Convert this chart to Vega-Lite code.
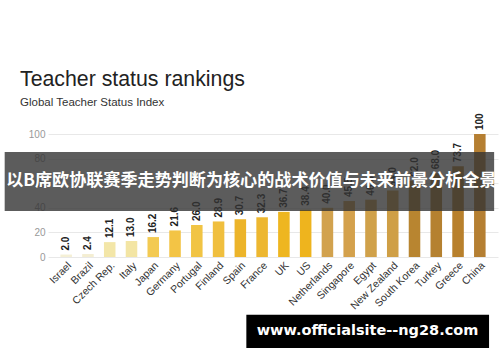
{
  "$schema": "https://vega.github.io/schema/vega-lite/v6.json",
  "autosize": "none",
  "width": 450,
  "height": 123,
  "padding": {"left": 48, "top": 134, "right": 2, "bottom": 105},
  "background": "#ffffff",
  "config": {
    "view": {"stroke": null},
    "font": "Liberation Sans",
    "axisY": {"title": null, "domain": false, "ticks": false, "tickSize": 0, "tickCount": 5, "grid": true, "gridColor": "#e8e8e8", "labelColor": "#999999", "labelFontSize": 10, "labelPadding": 3},
    "axisX": {"title": null, "domain": false, "ticks": false, "grid": false, "labelAngle": -45, "labelColor": "#333333", "labelFontSize": 10.5, "labelPadding": 3}
  },
  "title": {
    "text": "Teacher status rankings",
    "subtitle": "Global Teacher Status Index",
    "anchor": "start",
    "frame": "group",
    "dx": -28,
    "offset": 5,
    "font": "Liberation Sans",
    "fontSize": 21.3,
    "fontWeight": "normal",
    "color": "#222222",
    "subtitleFont": "Liberation Sans",
    "subtitleFontSize": 11.5,
    "subtitleColor": "#333333",
    "subtitlePadding": 7
  },
  "layer": [
    {
      "data": {"name": "scores", "values": [
        {"country": "Israel", "value": 2.0, "label": "2.0"},
        {"country": "Brazil", "value": 2.4, "label": "2.4"},
        {"country": "Czech Rep.", "value": 12.1, "label": "12.1"},
        {"country": "Italy", "value": 13.0, "label": "13.0"},
        {"country": "Japan", "value": 16.2, "label": "16.2"},
        {"country": "Germany", "value": 21.6, "label": "21.6"},
        {"country": "Portugal", "value": 26.0, "label": "26.0"},
        {"country": "Finland", "value": 28.9, "label": "28.9"},
        {"country": "Spain", "value": 30.7, "label": "30.7"},
        {"country": "France", "value": 32.3, "label": "32.3"},
        {"country": "UK", "value": 36.7, "label": "36.7"},
        {"country": "US", "value": 38.4, "label": "38.4"},
        {"country": "Netherlands", "value": 40.0, "label": "40.0"},
        {"country": "Singapore", "value": 45.5, "label": "45.5"},
        {"country": "Egypt", "value": 46.6, "label": "46.6"},
        {"country": "New Zealand", "value": 54.0, "label": "54.0"},
        {"country": "South Korea", "value": 62.0, "label": "62.0"},
        {"country": "Turkey", "value": 68.0, "label": "68.0"},
        {"country": "Greece", "value": 73.7, "label": "73.7"},
        {"country": "China", "value": 100, "label": "100"}
      ]},
      "layer": [
        {
          "mark": {"type": "bar"},
          "encoding": {
            "x": {
              "field": "country", "type": "nominal", "sort": null,
              "scale": {"paddingInner": 0.47, "paddingOuter": 0.57}
            },
            "y": {
              "field": "value", "type": "quantitative",
              "scale": {"domain": [0, 100], "nice": false}
            },
            "color": {
              "field": "country", "type": "nominal", "legend": null,
              "scale": {
                "domain": ["Israel", "Brazil", "Czech Rep.", "Italy", "Japan", "Germany", "Portugal", "Finland", "Spain", "France", "UK", "US", "Netherlands", "Singapore", "Egypt", "New Zealand", "South Korea", "Turkey", "Greece", "China"],
                "range": ["#f5f0d6", "#f4eed2", "#f3e6a8", "#f3e5a4", "#f3ca52", "#f3c445", "#f1c444", "#f0bf3e", "#ecb42a", "#edb730", "#eeb620", "#eeb41e", "#d2a24e", "#d4a14c", "#d0a14a", "#cf9f46", "#b88530", "#b58130", "#b8802c", "#b57f32"]
              }
            }
          }
        },
        {
          "mark": {"type": "text", "angle": 270, "align": "left", "baseline": "middle", "dx": 4, "fontWeight": "bold", "fontSize": 10, "color": "#222222"},
          "encoding": {
            "x": {"field": "country", "type": "nominal", "sort": null},
            "y": {"field": "value", "type": "quantitative"},
            "text": {"field": "label"}
          }
        }
      ]
    },
    {
      "data": {"values": [{"caption": "以B席欧协联赛季走势判断为核心的战术价值与未来前景分析全景"}]},
      "layer": [
        {
          "mark": {"type": "rect", "color": "#333333", "opacity": 0.8},
          "encoding": {
            "x": {"datum": "Israel", "bandPosition": -4.83},
            "x2": {"datum": "China", "bandPosition": 1.74},
            "y": {"datum": 85.4}, "y2": {"datum": 37.4}
          }
        },
        {
          "mark": {"type": "text", "font": "Noto Sans CJK SC", "fontWeight": "bold", "fontSize": 17.1, "color": "#ffffff", "baseline": "middle", "align": "center"},
          "encoding": {
            "x": {"datum": "France", "bandPosition": -0.43},
            "y": {"datum": 61.4},
            "text": {"field": "caption"}
          }
        }
      ]
    },
    {
      "data": {"values": [{"site": "www.officialsite--ng28.com"}]},
      "layer": [
        {
          "mark": {"type": "rect", "color": "#000000"},
          "encoding": {
            "x": {"datum": "Spain", "bandPosition": 1.02},
            "x2": {"datum": "China", "bandPosition": 1.3},
            "y": {"datum": -47}, "y2": {"datum": -74}
          }
        },
        {
          "mark": {"type": "text", "font": "DejaVu Sans", "fontWeight": "bold", "fontSize": 14.5, "color": "#ffffff", "baseline": "middle", "align": "center"},
          "encoding": {
            "x": {"datum": "Egypt", "bandPosition": 0.2},
            "y": {"datum": -60.5},
            "text": {"field": "site"}
          }
        }
      ]
    }
  ]
}
